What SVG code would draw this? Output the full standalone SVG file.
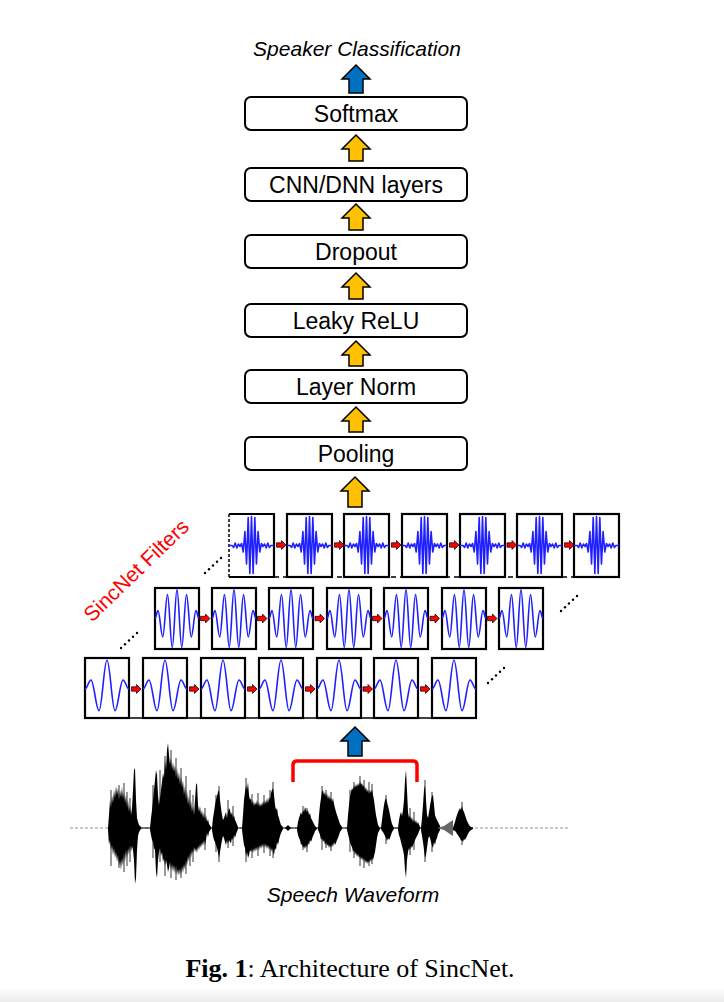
<svg xmlns="http://www.w3.org/2000/svg" width="724" height="1002" viewBox="0 0 724 1002">
<style>
.box{fill:#fff;stroke:#000;stroke-width:2}
.lbl{font-family:"Liberation Sans",Arial,sans-serif;font-size:23px;text-anchor:middle;fill:#000}
.it{font-family:"Liberation Sans",Arial,sans-serif;font-size:21px;font-style:italic;text-anchor:middle;fill:#000}
.ya{fill:#FFC000;stroke:#000;stroke-width:1.5;stroke-linejoin:miter}
.ba{fill:#0070C0;stroke:#000;stroke-width:1.5}
.fb{fill:#fff;stroke:#000;stroke-width:2.2}
.wv{fill:none;stroke:#1f1fff;stroke-width:1.6;stroke-linejoin:round}
.ra{fill:#ff0000;stroke:#000;stroke-width:0.7}
.dot{fill:#000}
</style>
<defs>
<linearGradient id="bg" x1="0" y1="0" x2="0" y2="1"><stop offset="0" stop-color="#fff"/><stop offset="1" stop-color="#ececec"/></linearGradient>
<path id="w1" class="wv" d="M0,31 C2.2,31 3.8,22 6,22 C8.9,22 11.1,52.7 14,52.7 C16.9,52.7 19.1,2 22,2 C24.9,2 27.1,52.7 30,52.7 C32.9,52.7 35.1,22 38,22 C40.2,22 41.8,31 44,31"/>
<path id="w2" class="wv" d="M0,30.5 C1.1,30.5 1.9,22.5 3,22.5 C4.7,22.5 6.04,49 7.75,49 C9.46,49 10.79,6.5 12.5,6.5 C14.21,6.5 15.54,59.5 17.25,59.5 C18.96,59.5 20.29,1.5 22,1.5 C23.71,1.5 25.04,59.5 26.75,59.5 C28.46,59.5 29.79,6.5 31.5,6.5 C33.21,6.5 34.54,49 36.25,49 C37.96,49 39.3,22.5 41,22.5 C42.1,22.5 42.9,30.5 44,30.5"/>
<polyline id="w3" class="wv" points="0,31.5 3,31.5 4.6,33.5 6.2,29 7.8,34 9.4,30 11,32.5 12.6,29.5 14.25,38 15.9,17.5 17.55,50 19.2,3.5 20.85,59.5 22.5,2.5 24.15,59.5 25.8,3.5 27.45,50 29.1,17.5 30.75,38 32.4,29.5 34,32.5 35.6,30 37.2,34 38.8,29 40.4,33.5 42,31.5 45,31.5"/>
<path id="ra" class="ra" d="M0,-2.2 H5 V-4.5 L9.5,0 L5,4.5 V2.2 H0 Z"/>
</defs>
<rect x="0" y="988" width="724" height="14" fill="url(#bg)"/>

<g id="speaker-classification"><text class="it" x="357" y="56">Speaker Classification</text></g>

<g id="softmax"><rect class="box" x="245" y="97" width="222" height="33" rx="6"/><text class="lbl" x="356" y="122">Softmax</text></g>
<g id="cnn-dnn"><rect class="box" x="245" y="168" width="222" height="33" rx="6"/><text class="lbl" x="356" y="193">CNN/DNN layers</text></g>
<g id="dropout"><rect class="box" x="245" y="235" width="222" height="33" rx="6"/><text class="lbl" x="356" y="260">Dropout</text></g>
<g id="leaky-relu"><rect class="box" x="245" y="304" width="222" height="33" rx="6"/><text class="lbl" x="356" y="329">Leaky ReLU</text></g>
<g id="layer-norm"><rect class="box" x="245" y="370" width="222" height="33" rx="6"/><text class="lbl" x="356" y="395">Layer Norm</text></g>
<g id="pooling"><rect class="box" x="245" y="437" width="222" height="33" rx="6"/><text class="lbl" x="356" y="462">Pooling</text></g>

<g id="connectors">
<polygon class="ba" points="356,65 370,79 363,79 363,93 349,93 349,79 342,79"/>
<polygon class="ya" points="356,135 370,149 363,149 363,161 349,161 349,149 342,149"/>
<polygon class="ya" points="356,204 370,218 363,218 363,230 349,230 349,218 342,218"/>
<polygon class="ya" points="356,273 370,287 363,287 363,299 349,299 349,287 342,287"/>
<polygon class="ya" points="356,341 370,355 363,355 363,366 349,366 349,355 342,355"/>
<polygon class="ya" points="356,407 370,421 363,421 363,432 349,432 349,421 342,421"/>
<polygon class="ya" points="355,477 369,491 362,491 362,507 348,507 348,491 341,491"/>
<polygon class="ba" points="355,727 369,741 362,741 362,756 348,756 348,741 341,741"/>
</g>

<g id="sincnet-filters">
<text x="92" y="623" transform="rotate(-44 92 623)" font-family="Liberation Sans, Arial, sans-serif" font-size="21" fill="#ff0000">SincNet Filters</text>

<g id="filters-top">
<line x1="229" y1="577" x2="619" y2="577" stroke="#000" stroke-width="1.5" stroke-dasharray="5,4"/>
<rect x="229" y="514" width="45" height="63" fill="#fff"/>
<path d="M229,514 H274 V577 H229" fill="none" stroke="#000" stroke-width="2.2"/>
<line x1="229" y1="514" x2="229" y2="577" stroke="#000" stroke-width="1.5" stroke-dasharray="3,2"/>
<use href="#w3" x="229" y="514"/>
<rect class="fb" x="287" y="514" width="45" height="63"/><use href="#w3" x="287" y="514"/>
<rect class="fb" x="344" y="514" width="45" height="63"/><use href="#w3" x="344" y="514"/>
<rect class="fb" x="402" y="514" width="45" height="63"/><use href="#w3" x="402" y="514"/>
<rect class="fb" x="460" y="514" width="45" height="63"/><use href="#w3" x="460" y="514"/>
<rect class="fb" x="517" y="514" width="45" height="63"/><use href="#w3" x="517" y="514"/>
<rect class="fb" x="574" y="514" width="45" height="63"/><use href="#w3" x="574" y="514"/>
<use href="#ra" x="276.5" y="545"/><use href="#ra" x="334.5" y="545"/><use href="#ra" x="391.5" y="545"/><use href="#ra" x="449.5" y="545"/><use href="#ra" x="507" y="545"/><use href="#ra" x="564.5" y="545"/>
<g class="dot"><circle cx="205" cy="573" r="1.2"/><circle cx="209" cy="569.3" r="1.2"/><circle cx="213" cy="565.5" r="1.2"/><circle cx="217" cy="561.8" r="1.2"/><circle cx="221" cy="558" r="1.2"/></g>
</g>

<g id="filters-middle">
<rect class="fb" x="155" y="588" width="44" height="61"/><use href="#w2" x="155" y="588"/>
<rect class="fb" x="212" y="588" width="44" height="61"/><use href="#w2" x="212" y="588"/>
<rect class="fb" x="269" y="588" width="44" height="61"/><use href="#w2" x="269" y="588"/>
<rect class="fb" x="327" y="588" width="44" height="61"/><use href="#w2" x="327" y="588"/>
<rect class="fb" x="384" y="588" width="44" height="61"/><use href="#w2" x="384" y="588"/>
<rect class="fb" x="442" y="588" width="44" height="61"/><use href="#w2" x="442" y="588"/>
<rect class="fb" x="499" y="588" width="44" height="61"/><use href="#w2" x="499" y="588"/>
<use href="#ra" x="200.5" y="618.5"/><use href="#ra" x="257.5" y="618.5"/><use href="#ra" x="315" y="618.5"/><use href="#ra" x="372.5" y="618.5"/><use href="#ra" x="430" y="618.5"/><use href="#ra" x="487.5" y="618.5"/>
<g class="dot"><circle cx="121" cy="648" r="1.2"/><circle cx="125" cy="644.3" r="1.2"/><circle cx="129" cy="640.5" r="1.2"/><circle cx="133" cy="636.8" r="1.2"/><circle cx="137" cy="633" r="1.2"/></g>
<g class="dot"><circle cx="561" cy="611" r="1.2"/><circle cx="565" cy="607.3" r="1.2"/><circle cx="569" cy="603.5" r="1.2"/><circle cx="573" cy="599.8" r="1.2"/><circle cx="577" cy="596" r="1.2"/></g>
</g>

<g id="filters-bottom">
<line x1="85" y1="718" x2="476" y2="718" stroke="#000" stroke-width="1.5"/>
<rect class="fb" x="85" y="658" width="44" height="60"/><use href="#w1" x="85" y="658"/>
<rect class="fb" x="143" y="658" width="44" height="60"/><use href="#w1" x="143" y="658"/>
<rect class="fb" x="201" y="658" width="44" height="60"/><use href="#w1" x="201" y="658"/>
<rect class="fb" x="259" y="658" width="44" height="60"/><use href="#w1" x="259" y="658"/>
<rect class="fb" x="317" y="658" width="44" height="60"/><use href="#w1" x="317" y="658"/>
<rect class="fb" x="374" y="658" width="44" height="60"/><use href="#w1" x="374" y="658"/>
<rect class="fb" x="432" y="658" width="44" height="60"/><use href="#w1" x="432" y="658"/>
<use href="#ra" x="131.5" y="689"/><use href="#ra" x="189.5" y="689"/><use href="#ra" x="247.5" y="689"/><use href="#ra" x="305.5" y="689"/><use href="#ra" x="363" y="689"/><use href="#ra" x="420.5" y="689"/>
<g class="dot"><circle cx="488" cy="683" r="1.2"/><circle cx="492" cy="679.3" r="1.2"/><circle cx="496" cy="675.5" r="1.2"/><circle cx="500" cy="671.8" r="1.2"/><circle cx="504" cy="668" r="1.2"/></g>
</g>
</g>

<g id="speech-waveform">
<line x1="70" y1="828" x2="568" y2="828" stroke="#777" stroke-width="0.8" stroke-dasharray="3,2"/>
<line x1="108" y1="828" x2="473" y2="828" stroke="#000" stroke-width="1"/>
<path fill="#000" d="M108,828 L109,815 110,800 111,808 112,795 113,803 114,790 115,798 116,786 117,795 118,788 119,800 120,790 121,797 122,787 123,799 124,792 125,803 126,795 127,808 128,800 129,812 130,805 131,815 132,808 133,790 134,770 135,768 136,800 137,818 138,822 139,825 141,827 141,829 139,832 138,836 137,850 136,878 135,884 134,860 133,850 132,846 131,852 130,845 129,855 128,848 127,858 126,850 125,862 124,853 123,866 122,858 121,870 120,860 119,866 118,855 117,862 116,852 115,858 114,848 113,855 112,845 111,850 110,840 109,845 108,830Z
M150,828 L151,818 152,810 153,800 154,790 155,780 156,770 157,775 158,795 159,805 160,798 161,790 162,782 163,773 164,778 165,760 166,770 167,750 168,743 169,755 170,765 171,758 172,770 173,762 174,772 175,765 176,778 177,768 178,780 179,772 180,785 181,776 182,788 183,780 184,795 185,785 186,800 187,790 188,805 189,795 190,808 191,800 192,812 193,806 194,815 195,800 196,785 197,783 198,805 199,812 200,806 201,815 202,810 203,818 204,812 205,820 206,815 207,822 208,819 209,824 211,827 211,829 209,832 208,837 207,833 206,840 205,845 204,840 203,846 202,842 201,848 200,844 199,850 198,846 197,853 196,848 195,852 194,847 193,854 192,850 191,858 190,852 189,862 188,856 187,866 186,860 185,870 184,864 183,873 182,866 181,875 180,868 179,876 178,869 177,875 176,866 175,874 174,865 173,872 172,864 171,870 170,862 169,868 168,872 167,865 166,860 165,866 164,858 163,862 162,852 161,856 160,848 159,852 158,860 157,878 156,872 155,850 154,848 153,842 152,840 151,835 150,830Z
M212,828 L213,818 214,812 215,805 216,800 217,796 218,792 219,790 220,800 221,808 222,815 223,820 224,818 225,815 226,812 227,818 228,812 229,808 230,810 231,815 232,812 233,818 234,815 235,820 236,822 238,827 238,829 236,834 235,838 234,835 233,840 232,838 231,843 230,842 229,840 228,844 227,840 226,845 225,842 224,838 223,836 222,840 221,846 220,852 219,858 218,852 217,848 216,845 215,842 214,840 213,836 212,830Z
M242,828 L243,815 244,800 245,792 246,785 247,790 248,782 249,795 250,800 251,798 252,804 253,800 254,806 255,802 256,805 257,800 258,806 259,802 260,807 261,803 262,806 263,801 264,805 265,800 266,804 267,798 268,803 269,797 270,800 271,793 272,790 273,788 274,795 275,805 276,810 277,808 278,815 279,818 280,822 281,825 283,827 283,829 281,833 280,836 279,840 278,845 277,842 276,850 275,848 274,855 273,852 272,848 271,852 270,846 269,850 268,845 267,849 266,844 265,848 264,843 263,848 262,844 261,849 260,845 259,850 258,846 257,851 256,847 255,852 254,848 253,853 252,849 251,852 250,850 249,855 248,858 247,852 246,856 245,848 244,845 243,838 242,830Z
M285,828 L287,826 288,825 289,826 291,828 289,830 288,831 287,830Z
M297,828 L298,822 299,818 300,815 301,812 302,815 303,810 304,812 305,807 306,810 307,812 308,810 309,815 310,813 311,818 312,820 313,822 314,824 315,826 317,828 317,829 315,831 314,834 313,836 312,839 311,842 310,840 309,845 308,843 307,848 306,845 305,849 304,846 303,848 302,844 301,845 300,840 299,838 298,835 297,830Z
M318,828 L319,815 320,805 321,798 322,792 323,790 324,795 325,792 326,797 327,793 328,799 329,795 330,800 331,797 332,802 333,798 334,804 335,808 336,812 337,815 338,818 339,821 340,824 342,827 342,829 340,832 339,835 338,838 337,840 336,843 335,845 334,842 333,847 332,844 331,848 330,845 329,848 328,844 327,846 326,842 325,845 324,840 323,842 322,838 321,840 320,835 319,832 318,830Z
M347,828 L348,815 349,805 350,797 351,792 352,788 353,790 354,785 355,788 356,784 357,787 358,783 359,786 360,781 361,785 362,783 363,787 364,785 365,790 366,787 367,792 368,789 369,794 370,790 371,793 372,789 373,795 374,800 375,808 376,815 377,820 378,825 380,828 380,829 378,833 377,838 376,845 375,852 374,856 373,860 372,858 371,862 370,859 369,863 368,861 367,864 366,860 365,863 364,858 363,861 362,857 361,860 360,856 359,858 358,854 357,857 356,852 355,855 354,850 353,852 352,847 351,845 350,842 349,838 348,834 347,830Z
M381,828 L382,820 383,812 384,805 385,800 386,798 387,802 388,806 389,810 390,815 391,820 392,824 394,828 394,829 392,832 391,835 390,838 389,840 388,838 387,841 386,838 385,836 384,834 383,832 382,831 381,829Z
M398,828 L399,820 400,815 401,812 402,816 403,810 404,800 405,780 406,770 407,790 408,812 409,818 410,815 411,820 412,817 413,822 414,819 415,823 416,820 417,824 418,822 420,827 420,829 418,834 417,836 416,838 415,840 414,843 413,845 412,848 411,846 410,850 409,848 408,852 407,860 406,878 405,870 404,855 403,850 402,846 401,842 400,838 399,835 398,830Z
M421,828 L422,818 423,805 424,790 425,785 426,800 427,815 428,818 429,812 430,806 431,800 432,796 433,795 434,805 435,815 436,818 437,820 438,822 440,826 440,830 438,834 437,838 436,840 435,845 434,842 433,848 432,846 431,842 430,838 429,836 428,840 427,848 426,855 425,858 424,850 423,842 422,836 421,830Z
M453,828 L455,822 456,818 457,815 458,812 459,810 460,808 461,810 462,806 463,810 464,812 465,815 466,818 467,821 468,823 469,825 471,827 473,828 473,829 471,830 469,832 468,834 467,836 466,838 465,840 464,839 463,842 462,840 461,841 460,838 459,837 458,835 457,834 456,832 455,831 453,830Z"/>
<path fill="none" stroke="#000" stroke-width="0.8" d="M111,790V866 M119,785V868 M124,783V872 M127,792V866 M130,798V862 M153,785V858 M160,770V862 M165,756V876 M171,750V878 M176,758V880 M181,768V878 M186,776V874 M190,790V866 M193,795V862 M205,808V850 M216,795V852 M219,786V862 M228,800V848 M233,806V846 M246,778V862 M252,794V858 M258,793V856 M264,795V853 M270,790V856 M273,782V858 M303,806V850 M307,808V852 M322,786V850 M326,790V848 M331,792V851 M350,790V852 M354,782V858 M360,776V866 M364,780V868 M369,782V866 M372,784V864 M386,795V844 M410,808V855 M414,812V850 M425,780V862 M432,792V852 M462,802V845"/>
<path fill="#666" d="M437,828 L444,826 450,822 453,820 453,836 450,834 444,830Z"/>
</g>

<g id="window-bracket"><path d="M293,782 V765 Q293,761 297,761 H413 Q417,761 417,765 V782" fill="none" stroke="#ff0000" stroke-width="3.5"/></g>

<g id="speech-label"><text class="it" x="353" y="902">Speech Waveform</text></g>

<g id="caption"><text x="350" y="977" font-family="Liberation Serif, Times New Roman, serif" font-size="26" text-anchor="middle" fill="#000"><tspan font-weight="bold">Fig. 1</tspan>: Architecture of SincNet.</text></g>
</svg>
